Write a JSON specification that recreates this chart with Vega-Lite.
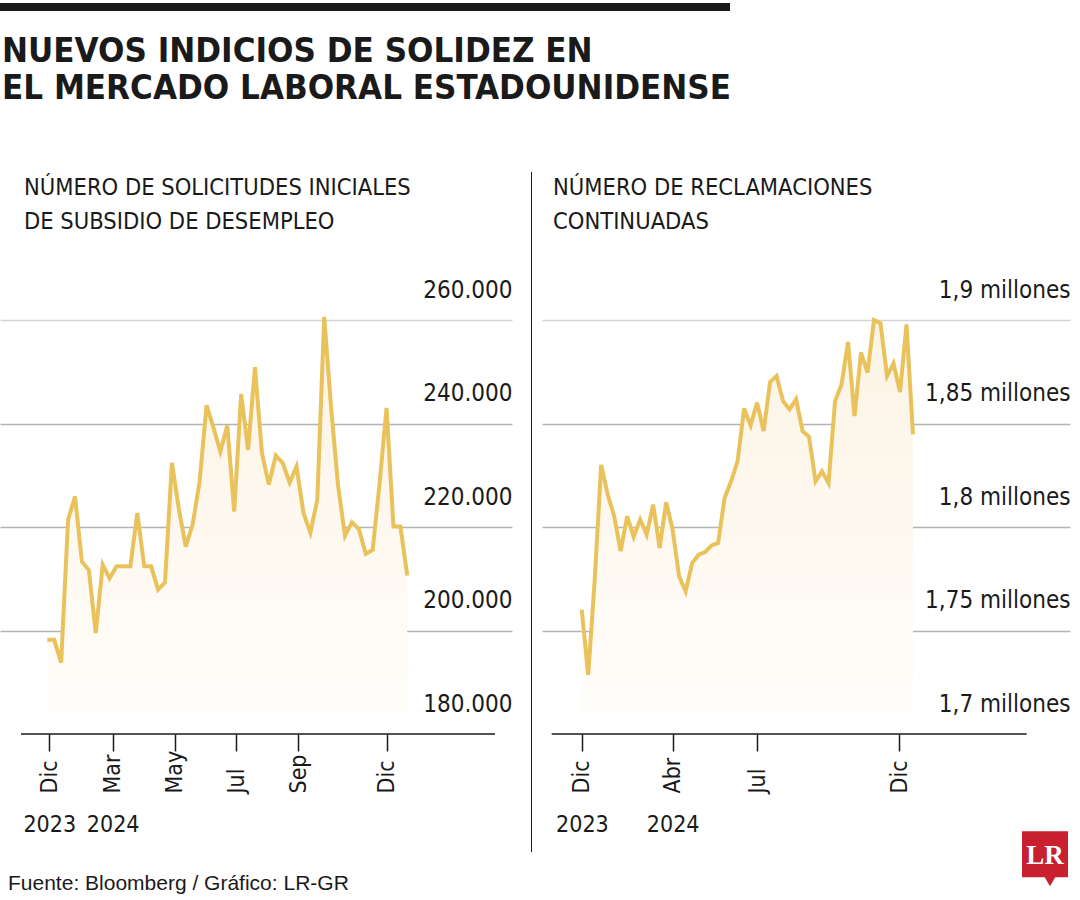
{
  "$schema": "https://vega.github.io/schema/vega-lite/v6.json",
  "background": "white",
  "padding": {"left": 0, "top": 3, "right": 6, "bottom": 2},
  "config": {
    "view": {"stroke": null},
    "font": "DejaVu Sans Condensed, DejaVu Sans, sans-serif",
    "title": {"color": "#1a1a1a"}
  },
  "datasets": {
    "iniciales": [
      {"date": "2023-12-30", "v": 198200},
      {"date": "2024-01-06", "v": 198200},
      {"date": "2024-01-13", "v": 193800},
      {"date": "2024-01-20", "v": 221400},
      {"date": "2024-01-27", "v": 225900},
      {"date": "2024-02-03", "v": 213300},
      {"date": "2024-02-10", "v": 211700},
      {"date": "2024-02-17", "v": 199500},
      {"date": "2024-02-24", "v": 212700},
      {"date": "2024-03-02", "v": 210100},
      {"date": "2024-03-09", "v": 212400},
      {"date": "2024-03-16", "v": 212400},
      {"date": "2024-03-23", "v": 212400},
      {"date": "2024-03-30", "v": 222700},
      {"date": "2024-04-06", "v": 212400},
      {"date": "2024-04-13", "v": 212400},
      {"date": "2024-04-20", "v": 207900},
      {"date": "2024-04-27", "v": 209300},
      {"date": "2024-05-04", "v": 232400},
      {"date": "2024-05-11", "v": 223500},
      {"date": "2024-05-18", "v": 216200},
      {"date": "2024-05-25", "v": 220500},
      {"date": "2024-06-01", "v": 228800},
      {"date": "2024-06-08", "v": 243500},
      {"date": "2024-06-15", "v": 239200},
      {"date": "2024-06-22", "v": 234600},
      {"date": "2024-06-29", "v": 239600},
      {"date": "2024-07-06", "v": 223000},
      {"date": "2024-07-13", "v": 245700},
      {"date": "2024-07-20", "v": 234900},
      {"date": "2024-07-27", "v": 250900},
      {"date": "2024-08-03", "v": 234300},
      {"date": "2024-08-10", "v": 228200},
      {"date": "2024-08-17", "v": 233800},
      {"date": "2024-08-24", "v": 232400},
      {"date": "2024-08-31", "v": 228600},
      {"date": "2024-09-07", "v": 231700},
      {"date": "2024-09-14", "v": 222700},
      {"date": "2024-09-21", "v": 218900},
      {"date": "2024-09-28", "v": 225300},
      {"date": "2024-10-05", "v": 260600},
      {"date": "2024-10-12", "v": 243000},
      {"date": "2024-10-19", "v": 228000},
      {"date": "2024-10-26", "v": 218300},
      {"date": "2024-11-02", "v": 220900},
      {"date": "2024-11-09", "v": 219600},
      {"date": "2024-11-16", "v": 214800},
      {"date": "2024-11-23", "v": 215600},
      {"date": "2024-11-30", "v": 228500},
      {"date": "2024-12-07", "v": 243000},
      {"date": "2024-12-14", "v": 220100},
      {"date": "2024-12-21", "v": 220100},
      {"date": "2024-12-28", "v": 210600}
    ],
    "continuadas": [
      {"date": "2023-12-30", "v": 1760000},
      {"date": "2024-01-06", "v": 1728600},
      {"date": "2024-01-13", "v": 1774500},
      {"date": "2024-01-20", "v": 1830000},
      {"date": "2024-01-27", "v": 1815700},
      {"date": "2024-02-03", "v": 1805200},
      {"date": "2024-02-10", "v": 1788300},
      {"date": "2024-02-17", "v": 1805200},
      {"date": "2024-02-24", "v": 1795200},
      {"date": "2024-03-02", "v": 1803600},
      {"date": "2024-03-09", "v": 1796300},
      {"date": "2024-03-16", "v": 1810800},
      {"date": "2024-03-23", "v": 1789900},
      {"date": "2024-03-30", "v": 1812000},
      {"date": "2024-04-06", "v": 1798700},
      {"date": "2024-04-13", "v": 1776100},
      {"date": "2024-04-20", "v": 1768900},
      {"date": "2024-04-27", "v": 1782600},
      {"date": "2024-05-04", "v": 1786600},
      {"date": "2024-05-11", "v": 1787900},
      {"date": "2024-05-18", "v": 1791100},
      {"date": "2024-05-25", "v": 1792300},
      {"date": "2024-06-01", "v": 1814100},
      {"date": "2024-06-08", "v": 1822100},
      {"date": "2024-06-15", "v": 1831800},
      {"date": "2024-06-22", "v": 1857200},
      {"date": "2024-06-29", "v": 1849100},
      {"date": "2024-07-06", "v": 1860100},
      {"date": "2024-07-13", "v": 1846300},
      {"date": "2024-07-20", "v": 1870000},
      {"date": "2024-07-27", "v": 1872900},
      {"date": "2024-08-03", "v": 1860800},
      {"date": "2024-08-10", "v": 1856800},
      {"date": "2024-08-17", "v": 1861700},
      {"date": "2024-08-24", "v": 1846300},
      {"date": "2024-08-31", "v": 1843600},
      {"date": "2024-09-07", "v": 1822100},
      {"date": "2024-09-14", "v": 1826900},
      {"date": "2024-09-21", "v": 1821300},
      {"date": "2024-09-28", "v": 1860800},
      {"date": "2024-10-05", "v": 1868900},
      {"date": "2024-10-12", "v": 1889400},
      {"date": "2024-10-19", "v": 1853600},
      {"date": "2024-10-26", "v": 1884300},
      {"date": "2024-11-02", "v": 1874600},
      {"date": "2024-11-09", "v": 1900000},
      {"date": "2024-11-16", "v": 1898400},
      {"date": "2024-11-23", "v": 1872900},
      {"date": "2024-11-30", "v": 1879100},
      {"date": "2024-12-07", "v": 1865200},
      {"date": "2024-12-14", "v": 1897900},
      {"date": "2024-12-21", "v": 1844700}
    ]
  },
  "spacing": 65,
  "vconcat": [
    {
      "width": 730,
      "height": 8,
      "view": {"fill": "#1a1a1a", "stroke": null},
      "data": {"values": [{}]},
      "mark": {"type": "point", "size": 0, "opacity": 0},
      "encoding": {},
      "title": {
        "text": ["NUEVOS INDICIOS DE SOLIDEZ EN", "EL MERCADO LABORAL ESTADOUNIDENSE"],
        "orient": "bottom",
        "anchor": "start",
        "font": "DejaVu Sans Condensed, DejaVu Sans, sans-serif",
        "fontSize": 34.6,
        "fontWeight": "bold",
        "lineHeight": 37,
        "offset": 24,
        "dx": 2,
        "color": "#1a1a1a"
      }
    },
    {
      "spacing": 10,
      "hconcat": [
        {
          "spacing": 19,
          "title": {
            "text": "Fuente: Bloomberg / Gráfico: LR-GR",
            "orient": "bottom",
            "anchor": "start",
            "font": "Liberation Sans, Arial, sans-serif",
            "fontSize": 21,
            "fontWeight": "normal",
            "offset": 21,
            "dx": 8,
            "color": "#1a1a1a"
          },
          "hconcat": [
            {
              "width": 512,
              "height": 414,
              "data": {"name": "iniciales"},
              "title": {
                "text": ["NÚMERO DE SOLICITUDES INICIALES", "DE SUBSIDIO DE DESEMPLEO"],
                "anchor": "start",
                "font": "DejaVu Sans Condensed, DejaVu Sans, sans-serif",
                "fontSize": 23.5,
                "fontWeight": "normal",
                "lineHeight": 34,
                "offset": 45,
                "dx": 24,
                "color": "#1a1a1a"
              },
              "resolve": {"axis": {"x": "independent", "y": "independent"}},
              "layer": [
                {
                  "mark": {
                    "type": "area",
                    "color": {
                      "gradient": "linear",
                      "x1": 0, "y1": 0, "x2": 0, "y2": 1,
                      "stops": [
                        {"offset": 0, "color": "#fcf3e4"},
                        {"offset": 1, "color": "#fffdfa"}
                      ]
                    }
                  },
                  "encoding": {
                    "x": {
                      "field": "date",
                      "type": "temporal",
                      "scale": {
                        "type": "utc",
                        "domain": [
                          {"year": 2023, "month": 11, "date": 12, "hours": 4, "minutes": 5, "utc": true},
                          {"year": 2025, "month": 4, "date": 12, "hours": 20, "minutes": 38, "utc": true}
                        ]
                      },
                      "axis": {
                        "orient": "bottom",
                        "title": null,
                        "grid": false,
                        "domain": false,
                        "ticks": true,
                        "tickSize": 17,
                        "tickWidth": 1.5,
                        "tickColor": "#1a1a1a",
                        "values": [
                          {"year": 2023, "month": 12, "date": 31, "hours": 23, "utc": true},
                          {"year": 2024, "month": 3, "date": 5, "hours": 3, "utc": true},
                          {"year": 2024, "month": 5, "date": 6, "hours": 19, "utc": true},
                          {"year": 2024, "month": 7, "date": 8, "hours": 2, "utc": true},
                          {"year": 2024, "month": 9, "date": 8, "hours": 12, "utc": true},
                          {"year": 2024, "month": 12, "date": 7, "hours": 4, "utc": true}
                        ],
                        "labelExpr": "['Ene','Feb','Mar','Abr','May','Jun','Jul','Ago','Sep','Oct','Nov','Dic'][utcmonth(datum.value)]",
                        "labelAngle": 270,
                        "labelAlign": "left",
                        "labelBaseline": "middle",
                        "labelPadding": 42,
                        "labelFont": "DejaVu Sans Condensed, DejaVu Sans, sans-serif",
                        "labelFontSize": 23,
                        "labelColor": "#1a1a1a",
                        "labelOverlap": false,
                        "labelBound": false,
                        "labelFlush": false
                      }
                    },
                    "y": {
                      "field": "v",
                      "type": "quantitative",
                      "scale": {"domain": [180000, 260000], "nice": false, "zero": false},
                      "axis": {
                        "orient": "right",
                        "title": null,
                        "values": [200000, 220000, 240000],
                        "domain": false,
                        "ticks": false,
                        "labels": false,
                        "grid": true,
                        "gridWidth": 1.5,
                        "gridColor": "#b4b4b4"
                      }
                    },
                    "y2": {"datum": 184000}
                  }
                },
                {
                  "data": {"values": [{}]},
                  "mark": {"type": "rule", "color": "#1a1a1a", "strokeWidth": 1.5},
                  "encoding": {
                    "x": {"datum": {"year": 2023, "month": 12, "date": 3, "hours": 9, "minutes": 50, "utc": true}, "type": "temporal", "axis": null},
                    "x2": {"datum": {"year": 2025, "month": 3, "date": 26, "hours": 16, "minutes": 19, "utc": true}},
                    "y": {
                      "datum": 180000,
                      "type": "quantitative",
                      "axis": {
                        "orient": "right",
                        "title": null,
                        "values": [260000],
                        "domain": false,
                        "ticks": false,
                        "labels": false,
                        "grid": true,
                        "gridWidth": 1.5,
                        "gridColor": "#d4d4d4"
                      }
                    }
                  }
                },
                {
                  "mark": {"type": "line", "color": "#e9c25c", "strokeWidth": 4, "strokeJoin": "miter", "strokeMiterLimit": 4},
                  "encoding": {
                    "x": {
                      "field": "date",
                      "type": "temporal",
                      "axis": {
                        "orient": "bottom",
                        "title": null,
                        "grid": false,
                        "domain": false,
                        "ticks": false,
                        "tickSize": 0,
                        "values": [
                          {"year": 2023, "month": 12, "date": 31, "hours": 23, "utc": true},
                          {"year": 2024, "month": 3, "date": 5, "hours": 3, "utc": true}
                        ],
                        "labelExpr": "'' + utcyear(datum.value)",
                        "labelAngle": 0,
                        "labelAlign": "center",
                        "labelBaseline": "top",
                        "labelPadding": 79,
                        "labelFont": "DejaVu Sans Condensed, DejaVu Sans, sans-serif",
                        "labelFontSize": 23,
                        "labelColor": "#1a1a1a",
                        "labelOverlap": false,
                        "labelBound": false,
                        "labelFlush": false
                      }
                    },
                    "y": {
                      "field": "v",
                      "type": "quantitative",
                      "axis": {
                        "orient": "right",
                        "title": null,
                        "values": [180000, 200000, 220000, 240000, 260000],
                        "domain": false,
                        "ticks": false,
                        "tickSize": 0,
                        "grid": false,
                        "labelAlign": "right",
                        "labelBaseline": "alphabetic",
                        "labelPadding": 0,
                        "labelOffset": -23,
                        "labelFont": "DejaVu Sans Condensed, DejaVu Sans, sans-serif",
                        "labelFontSize": 24,
                        "labelColor": "#1a1a1a",
                        "labelExpr": "format(datum.value / 1000, 'd') + '.000'",
                        "labelOverlap": false,
                        "labelBound": false,
                        "labelFlush": false
                      }
                    }
                  }
                }
              ]
            },
            {
              "width": 1,
              "height": 414,
              "data": {"values": [{}]},
              "mark": {"type": "rule", "color": "#1a1a1a", "strokeWidth": 1},
              "encoding": {
                "y": {"datum": 288600, "type": "quantitative", "scale": {"domain": [180000, 260000], "nice": false, "zero": false}, "axis": null},
                "y2": {"datum": 157200}
              }
            }
          ]
        },
        {
          "width": 528,
          "height": 414,
          "data": {"name": "continuadas"},
          "title": {
            "text": ["NÚMERO DE RECLAMACIONES", "CONTINUADAS"],
            "anchor": "start",
            "font": "DejaVu Sans Condensed, DejaVu Sans, sans-serif",
            "fontSize": 23.5,
            "fontWeight": "normal",
            "lineHeight": 34,
            "offset": 45,
            "dx": 11,
            "color": "#1a1a1a"
          },
          "resolve": {"axis": {"x": "independent", "y": "independent"}},
          "layer": [
            {
              "mark": {
                "type": "area",
                "color": {
                  "gradient": "linear",
                  "x1": 0, "y1": 0, "x2": 0, "y2": 1,
                  "stops": [
                    {"offset": 0, "color": "#fcf3e4"},
                    {"offset": 1, "color": "#fffdfa"}
                  ]
                }
              },
              "encoding": {
                "x": {
                  "field": "date",
                  "type": "temporal",
                  "scale": {
                    "type": "utc",
                    "domain": [
                      {"year": 2023, "month": 11, "date": 17, "hours": 5, "minutes": 17, "utc": true},
                      {"year": 2025, "month": 6, "date": 8, "hours": 4, "minutes": 19, "utc": true}
                    ]
                  },
                  "axis": {
                    "orient": "bottom",
                    "title": null,
                    "grid": false,
                    "domain": false,
                    "ticks": true,
                    "tickSize": 17,
                    "tickWidth": 1.5,
                    "tickColor": "#1a1a1a",
                    "values": [
                      {"year": 2023, "month": 12, "date": 30, "utc": true},
                      {"year": 2024, "month": 4, "date": 6, "hours": 1, "utc": true},
                      {"year": 2024, "month": 7, "date": 6, "hours": 5, "utc": true},
                      {"year": 2024, "month": 12, "date": 5, "hours": 22, "utc": true}
                    ],
                    "labelExpr": "['Ene','Feb','Mar','Abr','May','Jun','Jul','Ago','Sep','Oct','Nov','Dic'][utcmonth(datum.value)]",
                    "labelAngle": 270,
                    "labelAlign": "left",
                    "labelBaseline": "middle",
                    "labelPadding": 42,
                    "labelFont": "DejaVu Sans Condensed, DejaVu Sans, sans-serif",
                    "labelFontSize": 23,
                    "labelColor": "#1a1a1a",
                    "labelOverlap": false,
                    "labelBound": false,
                    "labelFlush": false
                  }
                },
                "y": {
                  "field": "v",
                  "type": "quantitative",
                  "scale": {"domain": [1700000, 1900000], "nice": false, "zero": false},
                  "axis": {
                    "orient": "right",
                    "title": null,
                    "values": [1750000, 1800000, 1850000],
                    "domain": false,
                    "ticks": false,
                    "labels": false,
                    "grid": true,
                    "gridWidth": 1.5,
                    "gridColor": "#b4b4b4"
                  }
                },
                "y2": {"datum": 1710000}
              }
            },
            {
              "data": {"values": [{}]},
              "mark": {"type": "rule", "color": "#1a1a1a", "strokeWidth": 1.5},
              "encoding": {
                "x": {"datum": {"year": 2023, "month": 11, "date": 27, "hours": 16, "utc": true}, "type": "temporal", "axis": null},
                "x2": {"datum": {"year": 2025, "month": 4, "date": 22, "hours": 12, "minutes": 29, "utc": true}},
                "y": {
                  "datum": 1700000,
                  "type": "quantitative",
                  "axis": {
                    "orient": "right",
                    "title": null,
                    "values": [1900000],
                    "domain": false,
                    "ticks": false,
                    "labels": false,
                    "grid": true,
                    "gridWidth": 1.5,
                    "gridColor": "#d4d4d4"
                  }
                }
              }
            },
            {
              "mark": {"type": "line", "color": "#e9c25c", "strokeWidth": 4, "strokeJoin": "miter", "strokeMiterLimit": 4},
              "encoding": {
                "x": {
                  "field": "date",
                  "type": "temporal",
                  "axis": {
                    "orient": "bottom",
                    "title": null,
                    "grid": false,
                    "domain": false,
                    "ticks": false,
                    "tickSize": 0,
                    "values": [
                      {"year": 2023, "month": 12, "date": 30, "hours": 6, "utc": true},
                      {"year": 2024, "month": 4, "date": 6, "hours": 1, "utc": true}
                    ],
                    "labelExpr": "'' + utcyear(datum.value)",
                    "labelAngle": 0,
                    "labelAlign": "center",
                    "labelBaseline": "top",
                    "labelPadding": 79,
                    "labelFont": "DejaVu Sans Condensed, DejaVu Sans, sans-serif",
                    "labelFontSize": 23,
                    "labelColor": "#1a1a1a",
                    "labelOverlap": false,
                    "labelBound": false,
                    "labelFlush": false
                  }
                },
                "y": {
                  "field": "v",
                  "type": "quantitative",
                  "axis": {
                    "orient": "right",
                    "title": null,
                    "values": [1700000, 1750000, 1800000, 1850000, 1900000],
                    "domain": false,
                    "ticks": false,
                    "tickSize": 0,
                    "grid": false,
                    "labelAlign": "right",
                    "labelBaseline": "alphabetic",
                    "labelPadding": 0,
                    "labelOffset": -23,
                    "labelFont": "DejaVu Sans Condensed, DejaVu Sans, sans-serif",
                    "labelFontSize": 24,
                    "labelColor": "#1a1a1a",
                    "labelExpr": "replace(format(datum.value / 1000000, '.2~f'), '.', ',') + ' millones'",
                    "labelOverlap": false,
                    "labelBound": false,
                    "labelFlush": false
                  }
                }
              }
            },
            {
              "data": {"values": [{}]},
              "mark": {"type": "point", "shape": "triangle-down", "size": 150, "filled": true, "opacity": 1, "color": "#c8202e"},
              "encoding": {
                "x": {"datum": {"year": 2025, "month": 5, "date": 17, "hours": 14, "utc": true}, "type": "temporal", "axis": null},
                "y": {"datum": 1629000, "type": "quantitative", "axis": null}
              }
            },
            {
              "data": {"values": [{}]},
              "mark": {"type": "point", "shape": "square", "size": 2116, "filled": true, "opacity": 1, "color": "#c8202e"},
              "encoding": {
                "x": {"datum": {"year": 2025, "month": 5, "date": 12, "hours": 5, "minutes": 45, "utc": true}, "type": "temporal", "axis": null},
                "y": {"datum": 1641900, "type": "quantitative", "axis": null}
              }
            },
            {
              "data": {"values": [{"t": "LR"}]},
              "mark": {"type": "text", "font": "Liberation Serif, DejaVu Serif, serif", "fontWeight": "bold", "fontSize": 27, "color": "white", "align": "center", "baseline": "middle"},
              "encoding": {
                "text": {"field": "t"},
                "x": {"datum": {"year": 2025, "month": 5, "date": 12, "hours": 5, "minutes": 45, "utc": true}, "type": "temporal", "axis": null},
                "y": {"datum": 1641000, "type": "quantitative", "axis": null}
              }
            }
          ]
        }
      ]
    }
  ]
}
